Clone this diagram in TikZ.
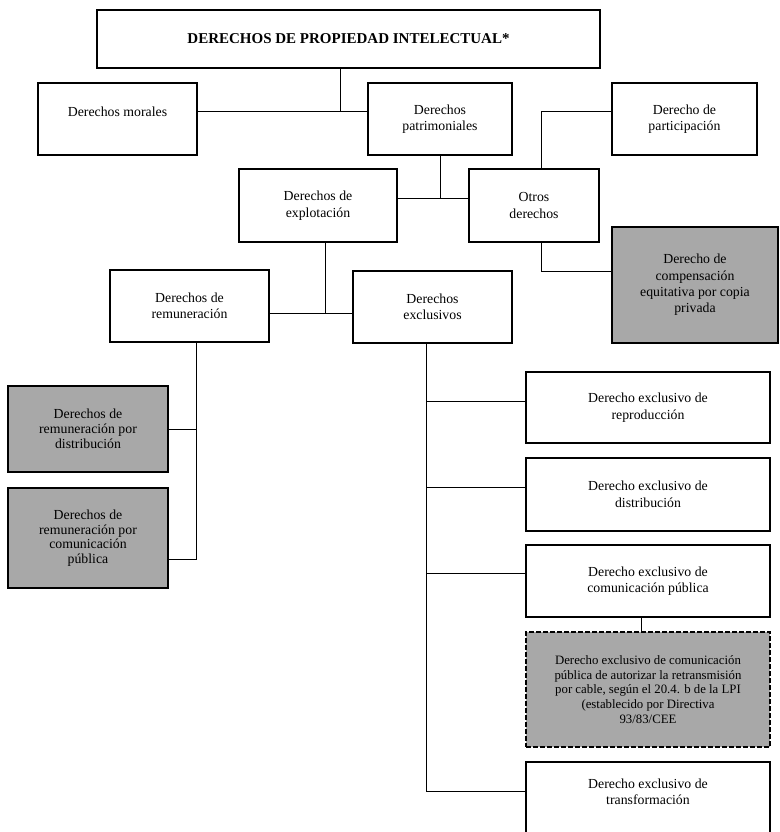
\documentclass[tikz,border=0pt]{standalone}
\usepackage{fontspec}
\setmainfont{Liberation Serif}
\begin{document}
\begin{tikzpicture}[x=1pt,y=-1pt,
  box/.style={draw=black, line width=1.2pt, outer sep=0pt, inner sep=2pt, align=center,
    font=\fontsize{13.8}{16.5}\selectfont},
  shade/.style={box, fill=black!34, font=\fontsize{13.8}{15}\selectfont},
  link/.style={line width=1pt},
  txt/.style={inner sep=0pt, align=center, font=\fontsize{13.8}{16.5}\selectfont}]
\clip (0,0) rectangle (779,832);
\fill[white] (0,0) rectangle (779,832);

% boxes
\node[box, minimum width=503, minimum height=58, font=\bfseries\fontsize{15}{18}\selectfont] (top) at (348.5,39) {DERECHOS DE PROPIEDAD INTELECTUAL*};
\node[box, minimum width=159, minimum height=72] (morales) at (117.5,119) {};
\node[txt] (moralestxt) at (117.5,112) {Derechos morales};
\node[box, minimum width=144, minimum height=72] (patrim) at (440,119) {Derechos\\patrimoniales};
\node[box, minimum width=145, minimum height=72] (partic) at (684.5,119) {Derecho de\\participación};
\node[box, minimum width=158, minimum height=73] (explot) at (318,205.5) {Derechos de\\explotación};
\node[box, minimum width=130, minimum height=73] (otros) at (534,205.5) {Otros\\derechos};
\node[shade, minimum width=166, minimum height=116, font=\fontsize{13.8}{16.3}\selectfont] (compens) at (695,285) {Derecho de\\compensación\\equitativa por copia\\privada};
\node[box, minimum width=159, minimum height=72] (remun) at (189.5,306) {Derechos de\\remuneración};
\node[box, minimum width=159, minimum height=72] (exclus) at (432.5,307) {Derechos\\exclusivos};
\node[shade, minimum width=160, minimum height=86] (remdist) at (88,429) {Derechos de\\remuneración por\\distribución};
\node[shade, minimum width=160, minimum height=100, font=\fontsize{13.8}{14.5}\selectfont] (remcom) at (88,538) {Derechos de\\remuneración por\\comunicación\\pública};
\node[box, minimum width=244, minimum height=71] (reprod) at (648,407.5) {Derecho exclusivo de\\reproducción};
\node[box, minimum width=244, minimum height=73] (distrib) at (648,494.5) {Derecho exclusivo de\\distribución};
\node[box, minimum width=244, minimum height=72] (compub) at (648,581) {Derecho exclusivo de\\comunicación pública};
\node[shade, dashed, dash pattern=on 5pt off 2pt, minimum width=244, minimum height=115,
  font=\fontsize{12.8}{14.7}\selectfont] (cable) at (648,689.5)
  {Derecho exclusivo de comunicación\\pública de autorizar la retransmisión\\por cable, según el 20.4. b de la LPI\\(establecido por Directiva\\93/83/CEE};
\node[box, minimum width=244, minimum height=78, anchor=north] (transf) at (648,762) {};
\node[txt] (transftxt) at (648,792) {Derecho exclusivo de\\transformación};

% junction coordinates
\coordinate (j1) at (340,112);
\coordinate (j2) at (440,198);
\coordinate (j3) at (541,112);
\coordinate (j4) at (541,271);
\coordinate (j5) at (325,313);
\coordinate (j6) at (196,559);
\coordinate (j7) at (426,791);
\coordinate (j8) at (641,0);

% connectors
\draw[link] (top.south -| j1) -- (j1);
\draw[link] (morales.east |- j1) -- (patrim.west |- j1);
\draw[link] (patrim.south -| j2) -- (j2);
\draw[link] (explot.east |- j2) -- (otros.west |- j2);
\draw[link] (partic.west |- j3) -- (j3) -- (otros.north -| j3);
\draw[link] (otros.south -| j4) -- (j4) -- (compens.west |- j4);
\draw[link] (explot.south -| j5) -- (j5);
\draw[link] (remun.east |- j5) -- (exclus.west |- j5);
\draw[link] (remun.south -| j6) -- (j6) -- (remcom.east |- j6);
\draw[link] (remdist.east) -- (remdist.east -| j6);
\draw[link] (exclus.south -| j7) -- (j7) -- (transf.west |- j7);
\draw[link] (reprod.west |- 0,401) -- (j7 |- 0,401);
\draw[link] (distrib.west |- 0,487) -- (j7 |- 0,487);
\draw[link] (compub.west |- 0,573) -- (j7 |- 0,573);
\draw[link] (compub.south -| j8) -- (cable.north -| j8);
\end{tikzpicture}
\end{document}
